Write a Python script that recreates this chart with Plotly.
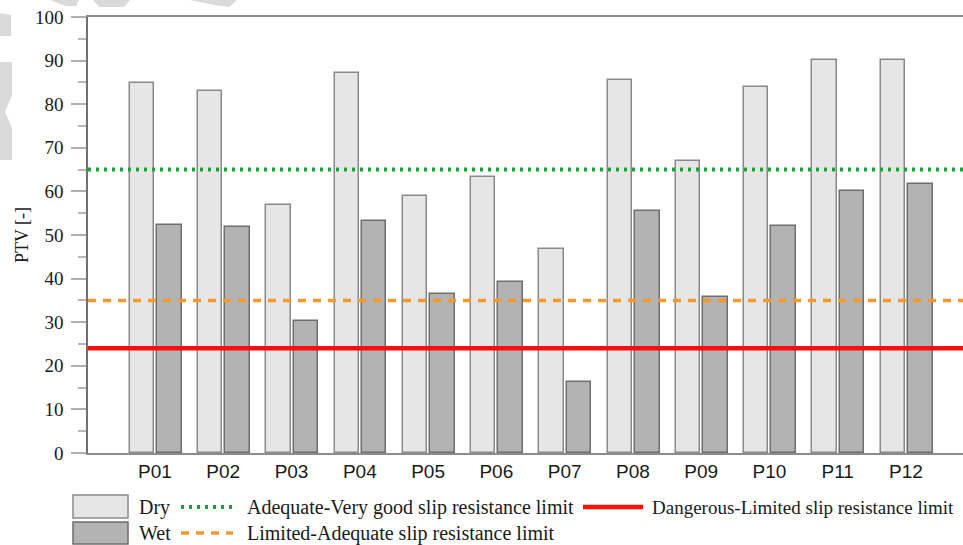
import plotly.graph_objects as go

categories = ["P01", "P02", "P03", "P04", "P05", "P06", "P07", "P08", "P09", "P10", "P11", "P12"]
dry_values = [84.8, 83.1, 56.8, 87.1, 58.9, 63.2, 46.7, 85.5, 66.9, 83.9, 90.2, 90.2]
wet_values = [52.3, 51.8, 30.3, 53.2, 36.5, 39.2, 16.2, 55.4, 35.8, 52.1, 60.0, 61.8]
limit_adequate_very_good = 65
limit_limited_adequate = 35
limit_dangerous_limited = 24
y_ticks = list(range(0, 101, 10))

W, H = 963, 545
L, R, T, B = 88, 0, 17, 92
PW, PH = W - L - R, H - T - B

def px(x):
    return (x - L) / PW

def py(y):
    return (H - B - y) / PH

positions = list(range(1, len(categories) + 1))

SERIF = "Liberation Serif"
SANS = "Liberation Sans"

DRY_FILL, DRY_LINE = "#e6e6e6", "#8a8a8a"
WET_FILL, WET_LINE = "#b3b3b3", "#6e6e6e"
GREEN, ORANGE, RED = "#16a33a", "#f7992a", "#ff0d0d"
GREEN_DASH, ORANGE_DASH = "3px,5px", "8px,7px"

fig = go.Figure()
fig.add_trace(go.Bar(x=positions, y=dry_values, name="Dry", offset=-0.37, width=0.355,
                     marker=dict(color=DRY_FILL, line=dict(color=DRY_LINE, width=1.5)),
                     showlegend=False))
fig.add_trace(go.Bar(x=positions, y=wet_values, name="Wet", offset=0.03, width=0.36,
                     marker=dict(color=WET_FILL, line=dict(color=WET_LINE, width=1.5)),
                     showlegend=False))

shapes = []
for val, col, dash, w in [(limit_adequate_very_good, GREEN, GREEN_DASH, 4),
                          (limit_limited_adequate, ORANGE, ORANGE_DASH, 3.5),
                          (limit_dangerous_limited, RED, "solid", 4.5)]:
    shapes.append(dict(type="line", xref="paper", yref="y", x0=0, x1=1, y0=val, y1=val,
                       line=dict(color=col, width=w, dash=dash), layer="above"))

# legend (manual)
shapes.append(dict(type="rect", xref="paper", yref="paper", x0=px(73), x1=px(128), y0=py(495), y1=py(518),
                   fillcolor=DRY_FILL, line=dict(color=DRY_LINE, width=1.5)))
shapes.append(dict(type="rect", xref="paper", yref="paper", x0=px(73), x1=px(128), y0=py(522), y1=py(544),
                   fillcolor=WET_FILL, line=dict(color=WET_LINE, width=1.5)))
shapes.append(dict(type="line", xref="paper", yref="paper", x0=px(181), x1=px(233), y0=py(507), y1=py(507),
                   line=dict(color=GREEN, width=4, dash=GREEN_DASH)))
shapes.append(dict(type="line", xref="paper", yref="paper", x0=px(181), x1=px(233), y0=py(533), y1=py(533),
                   line=dict(color=ORANGE, width=3.5, dash=ORANGE_DASH)))
shapes.append(dict(type="line", xref="paper", yref="paper", x0=px(583), x1=px(643), y0=py(507), y1=py(507),
                   line=dict(color=RED, width=4.5)))

# watermark fragments
def poly(pts):
    d = "M " + " L ".join(f"{px(x):.5f},{py(y):.5f}" for x, y in pts) + " Z"
    return dict(type="path", xref="paper", yref="paper", path=d, fillcolor="#dadada",
                line=dict(width=0), layer="above")

shapes += [
    poly([(50, 0), (79, 0), (76, 6), (66, 6)]),
    poly([(93, 0), (130, 0), (124, 7), (99, 7)]),
    poly([(190, 0), (237, 0), (229, 7), (214, 5)]),
    poly([(0, 13), (11, 15), (11, 36), (0, 36)]),
    poly([(0, 62), (12, 62), (12, 95), (5, 112), (12, 128), (12, 160), (0, 160)]),
]

annotations = [
    dict(text="Dry", x=px(137), y=py(507), size=20),
    dict(text="Wet", x=px(137), y=py(533), size=20),
    dict(text="Adequate-Very good slip resistance limit", x=px(245), y=py(507), size=20),
    dict(text="Limited-Adequate slip resistance limit", x=px(245), y=py(533), size=20),
    dict(text="Dangerous-Limited slip resistance limit", x=px(650), y=py(507), size=19),
]
for a in annotations:
    s = a.pop("size")
    a.update(xref="paper", yref="paper", xanchor="left", yanchor="middle", showarrow=False,
             font=dict(family=SERIF, size=s, color="#1a1a1a"))

x0 = 1 - 67 / 68.27
fig.update_layout(
    width=W, height=H,
    margin=dict(l=L, r=R, t=T, b=B, pad=0),
    paper_bgcolor="white", plot_bgcolor="white",
    shapes=shapes, annotations=annotations,
    font=dict(family=SERIF),
    bargap=0,
    xaxis=dict(range=[x0, x0 + PW / 68.27], tickvals=positions, ticktext=categories,
               showgrid=False, zeroline=False, showline=True, linecolor="#8c8c8c", linewidth=2,
               mirror=True, ticks="", tickfont=dict(family=SANS, size=19, color="#1a1a1a")),
    yaxis=dict(range=[0, 100], tickvals=y_ticks, showgrid=False, zeroline=False,
               showline=True, linecolor="#707070", linewidth=1.5,
               ticks="outside", ticklen=15, tickcolor="#b0b0b0", tickwidth=1.5,
               minor=dict(dtick=5, ticks="outside", ticklen=8, tickcolor="#b8b8b8", tickwidth=1.5),
               ticklabelstandoff=4,
               tickfont=dict(family=SERIF, size=19, color="#1a1a1a"),
               title=dict(text="PTV [-]", font=dict(family=SERIF, size=18, color="#1a1a1a"), standoff=2)),
)

fig.write_html("out.html")
